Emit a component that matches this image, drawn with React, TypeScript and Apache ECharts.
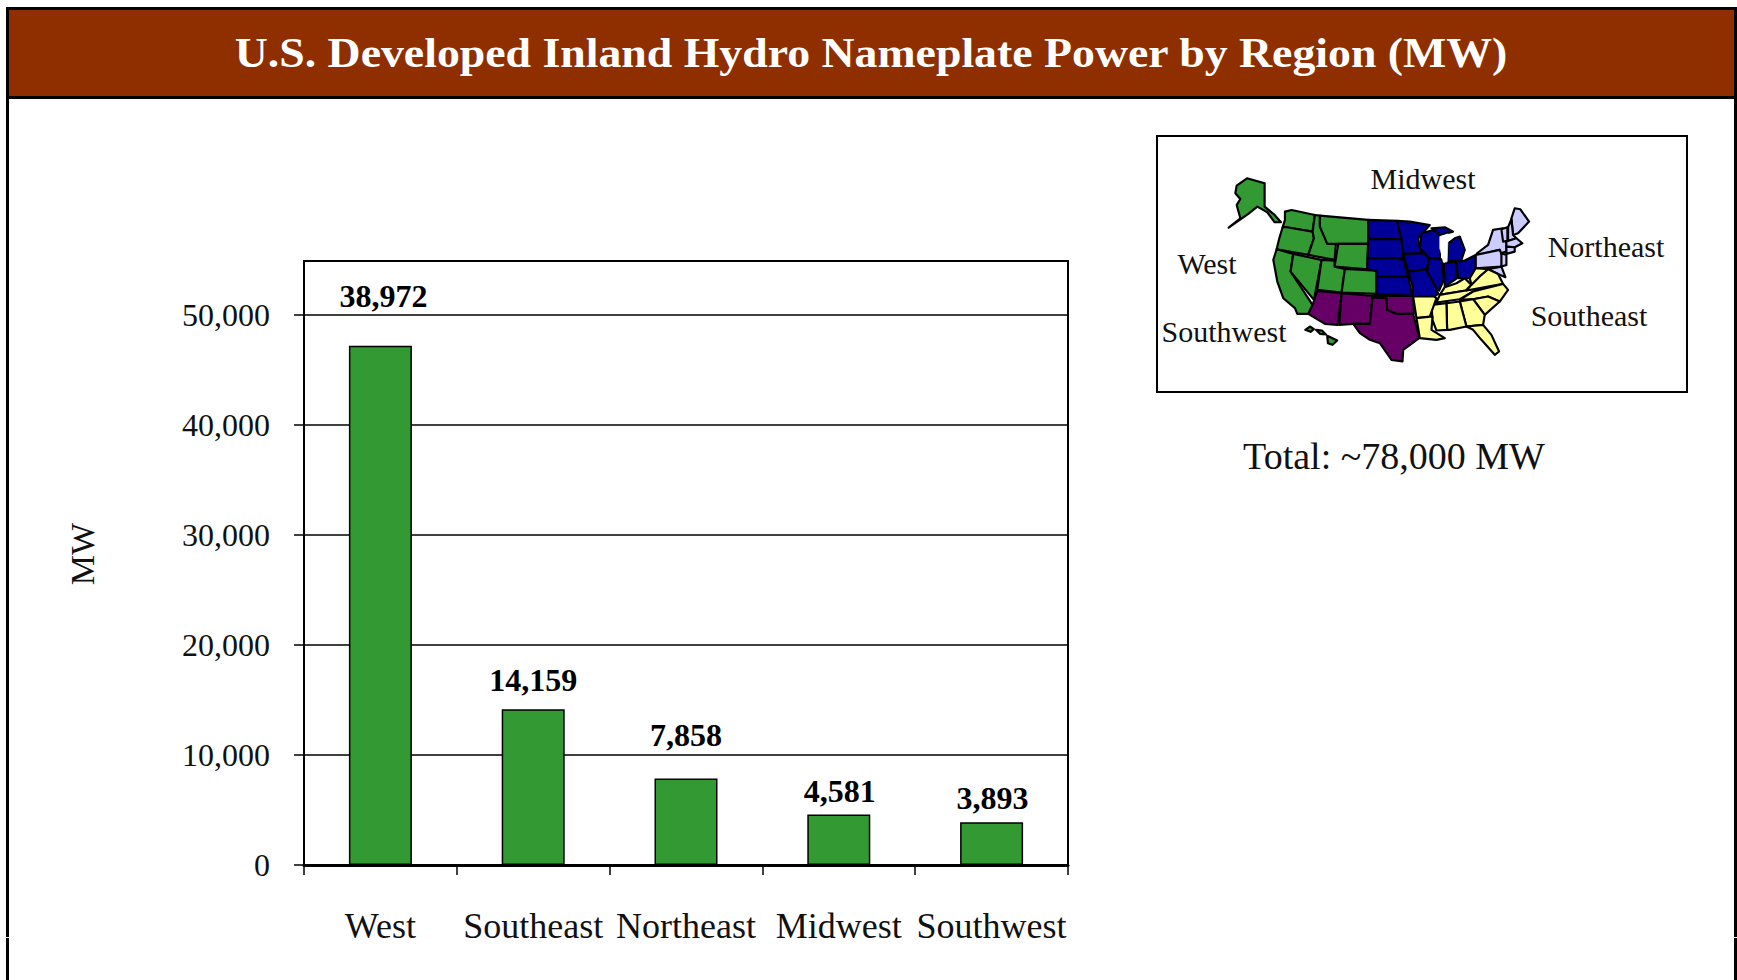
import React, { useEffect, useRef } from "react";
import * as echarts from "echarts";

const categories = ["West", "Southeast", "Northeast", "Midwest", "Southwest"];
const barValues = [47200, 14159, 7858, 4581, 3893];
const labelTexts = ["38,972", "14,159", "7,858", "4,581", "3,893"];
const labelGaps = [34, 13, 28, 8, 8];
const labelShifts = [3, 0, 0, 1, 1];
const yTicks = [0, 10000, 20000, 30000, 40000, 50000];
const titleText = "U.S. Developed Inland Hydro Nameplate Power by Region (MW)";
const totalText = "Total: ~78,000 MW";

const SERIF = '"Liberation Serif", serif';
const GREEN = "#339933";
const PURPLE = "#660066";
const NAVY = "#000099";
const LILAC = "#ccccff";
const YELLOW = "#ffff99";

type Pts = number[][];
const westStates: Pts[] = [
  [[-10,47],[21,25],[74,40],[74,110],[104,135],[123,157],[104,157],[82,127],[52,110],[27,130],[-34,173],[1,145],[-10,105],[1,87],[-14,70]],
  [[135,125],[155,120],[225,135],[218,185],[175,178],[140,172],[128,172],[135,150]],
  [[128,172],[140,172],[175,178],[218,185],[222,205],[205,255],[110,238],[118,205]],
  [[110,238],[160,252],[152,305],[218,405],[205,432],[172,432],[165,415],[130,385],[112,335],[100,270]],
  [[160,252],[245,270],[222,390],[152,305]],
  [[225,135],[240,137],[240,170],[262,220],[288,222],[284,270],[205,255],[222,205],[218,185]],
  [[240,137],[385,150],[385,222],[295,222],[288,222],[262,222],[240,170]],
  [[295,222],[385,222],[382,298],[284,290]],
  [[245,270],[284,272],[284,290],[315,297],[305,368],[232,360]],
  [[315,297],[410,302],[410,372],[305,368]],
  [[196,480],[210,470],[222,478],[212,486]],
  [[228,480],[246,482],[258,494],[240,492]],
  [[262,498],[292,512],[278,525],[264,520]],
];
const southwestStates: Pts[] = [
  [[232,363],[305,370],[293,465],[255,462],[205,432],[218,405]],
  [[305,370],[398,378],[390,462],[340,462],[298,465]],
  [[398,382],[440,385],[442,420],[470,432],[520,432],[538,505],[490,540],[488,575],[455,570],[420,520],[390,510],[360,490],[340,462],[390,462]],
  [[400,378],[520,378],[522,432],[470,432],[442,420],[440,385],[398,382]],
];
const midwestStates: Pts[] = [
  [[385,150],[472,153],[485,208],[385,207]],
  [[385,207],[485,208],[490,270],[475,265],[383,265]],
  [[383,265],[475,265],[490,270],[505,320],[410,320],[410,302],[382,298]],
  [[410,320],[505,320],[517,378],[410,372]],
  [[472,153],[510,155],[570,165],[535,205],[540,235],[555,250],[490,252],[485,208]],
  [[490,252],[555,250],[570,268],[560,298],[505,305]],
  [[505,305],[560,298],[590,355],[595,372],[583,380],[520,378],[517,345]],
  [[545,190],[580,180],[605,200],[600,265],[567,265],[555,250],[540,235]],
  [[567,265],[605,268],[612,330],[598,362],[590,355],[562,305]],
  [[612,280],[648,275],[652,325],[615,350]],
  [[622,275],[625,220],[645,205],[660,200],[675,240],[665,270]],
  [[575,175],[615,172],[640,185],[600,195]],
  [[650,275],[675,272],[708,255],[708,295],[690,325],[655,325]],
];
const northeastStates: Pts[] = [
  [[712,250],[745,225],[760,180],[790,175],[800,215],[800,245],[782,250],[780,240],[720,255]],
  [[708,255],[780,240],[795,275],[785,290],[708,295]],
  [[815,145],[825,115],[842,118],[868,155],[835,190],[820,195]],
  [[785,178],[803,172],[803,213],[790,215]],
  [[805,172],[815,148],[820,195],[830,205],[805,213]],
  [[800,215],[830,205],[848,220],[825,232],[800,230]],
  [[800,230],[825,232],[825,245],[800,252]],
  [[785,250],[800,255],[800,285],[785,290]],
  [[745,298],[785,290],[797,322],[775,312]],
];
const southeastStates: Pts[] = [
  [[600,375],[615,352],[650,340],[675,325],[695,345],[678,362]],
  [[590,398],[600,375],[678,362],[760,345],[700,365],[660,388]],
  [[690,325],[708,295],[745,298],[720,320],[705,345],[695,345]],
  [[680,362],[695,345],[720,320],[745,298],[775,312],[790,342]],
  [[700,365],[790,342],[805,360],[780,395],[745,380],[700,388],[660,390]],
  [[700,388],[745,380],[780,395],[735,435]],
  [[660,395],[700,388],[735,435],[730,465],[680,470]],
  [[680,470],[730,465],[755,495],[778,545],[765,555],[725,510],[700,480]],
  [[620,400],[660,395],[680,470],[630,480],[622,480]],
  [[575,405],[620,400],[622,480],[590,482],[578,450]],
  [[520,380],[583,380],[590,385],[570,440],[530,445]],
  [[530,445],[578,440],[575,480],[615,505],[590,510],[540,505]],
];
const lakeMichigan: Pts = [[600,200],[625,192],[622,275],[612,278],[600,235]];

const mapLabels = [
  { text: "Midwest", x: 1423, y: 178 },
  { text: "West", x: 1207, y: 263 },
  { text: "Northeast", x: 1606, y: 246 },
  { text: "Southeast", x: 1589, y: 315 },
  { text: "Southwest", x: 1224, y: 331 },
];

const statePolys = (list: Pts[], fill: string) =>
  list.map((points) => ({
    type: "polygon",
    z: 41,
    shape: { points },
    style: { fill, stroke: "#000", lineWidth: 6.5, lineJoin: "round" },
  }));

export default function App() {
  const ref = useRef<HTMLDivElement>(null);
  useEffect(() => {
    document.body.style.margin = "0";
    const chart = echarts.init(ref.current!, undefined, { renderer: "svg" });
    chart.setOption({
      animation: false,
      backgroundColor: "#fff",
      grid: {
        left: 304, right: 669, top: 261, bottom: 115,
        show: true, borderColor: "#000", borderWidth: 2, backgroundColor: "transparent",
      },
      xAxis: {
        type: "category",
        data: categories,
        axisLine: { lineStyle: { color: "#000", width: 3 } },
        axisTick: { show: true, length: 10, alignWithLabel: false, lineStyle: { color: "#000", width: 1.5 } },
        axisLabel: { color: "#111", fontFamily: SERIF, fontSize: 36, margin: 43, interval: 0, hideOverlap: false },
      },
      yAxis: {
        type: "value",
        min: 0,
        max: 54900,
        interval: 10000,
        name: "MW",
        nameLocation: "middle",
        nameGap: 205,
        nameRotate: 90,
        nameTextStyle: { color: "#111", fontFamily: SERIF, fontSize: 34, padding: [0, 0, 0, 18] },
        axisLine: { show: true, lineStyle: { color: "#000", width: 2 } },
        axisTick: { show: true, length: 10, customValues: yTicks, lineStyle: { color: "#000", width: 1.5 } },
        splitLine: { show: true, lineStyle: { color: "#000", width: 1.5 } },
        axisLabel: {
          color: "#111", fontFamily: SERIF, fontSize: 32, margin: 34,
          customValues: yTicks,
          formatter: (v: number) => v.toLocaleString("en-US"),
        },
      },
      series: [
        {
          type: "bar",
          barWidth: 63,
          itemStyle: { color: GREEN, borderColor: "#000", borderWidth: 1.5 },
          data: barValues.map((value, i) => ({
            value,
            label: {
              show: true,
              position: "top",
              distance: labelGaps[i],
              offset: [labelShifts[i], 0],
              formatter: () => labelTexts[i],
              color: "#000",
              fontFamily: SERIF,
              fontWeight: "bold",
              fontSize: 32,
            },
          })),
        },
      ],
      graphic: {
        elements: [
          { type: "rect", z: 50, shape: { x: 6, y: 7, width: 1731, height: 92 }, style: { fill: "#000" } },
          { type: "rect", z: 51, shape: { x: 9, y: 10, width: 1725, height: 86 }, style: { fill: "#8f2f00" } },
          { type: "rect", z: 50, shape: { x: 6, y: 7, width: 3, height: 973 }, style: { fill: "#000" } },
          { type: "rect", z: 50, shape: { x: 1734, y: 7, width: 3, height: 973 }, style: { fill: "#000" } },
          { type: "rect", z: 52, shape: { x: 6, y: 937, width: 3, height: 1 }, style: { fill: "#fff" } },
          { type: "rect", z: 52, shape: { x: 1734, y: 937, width: 3, height: 1 }, style: { fill: "#fff" } },
          {
            type: "text", z: 53, x: 871, y: 52, scaleX: 1.065, scaleY: 1,
            style: { text: titleText, fill: "#fff", font: `bold 43px ${SERIF}`, textAlign: "center", textVerticalAlign: "middle" },
          },
          {
            type: "rect", z: 40, shape: { x: 1157, y: 136, width: 530, height: 256 },
            style: { fill: "#fff", stroke: "#000", lineWidth: 2 },
          },
          {
            type: "group", x: 1240, y: 170, scaleX: 1 / 3, scaleY: 1 / 3,
            children: [
              ...statePolys(westStates, GREEN),
              ...statePolys(southwestStates, PURPLE),
              ...statePolys(midwestStates, NAVY),
              ...statePolys(northeastStates, LILAC),
              ...statePolys(southeastStates, YELLOW),
              { type: "polygon", z: 41, shape: { points: lakeMichigan }, style: { fill: "#fff", stroke: "#fff", lineWidth: 2 } },
            ],
          },
          ...mapLabels.map((l) => ({
            type: "text", z: 42, x: l.x, y: l.y,
            style: { text: l.text, fill: "#111", font: `30px ${SERIF}`, textAlign: "center", textVerticalAlign: "middle" },
          })),
          {
            type: "text", z: 42, x: 1394, y: 456,
            style: { text: totalText, fill: "#111", font: `38px ${SERIF}`, textAlign: "center", textVerticalAlign: "middle" },
          },
        ],
      },
    });
    return () => chart.dispose();
  }, []);
  return <div ref={ref} style={{ position: "fixed", left: 0, top: 0, width: 1737, height: 980 }} />;
}
